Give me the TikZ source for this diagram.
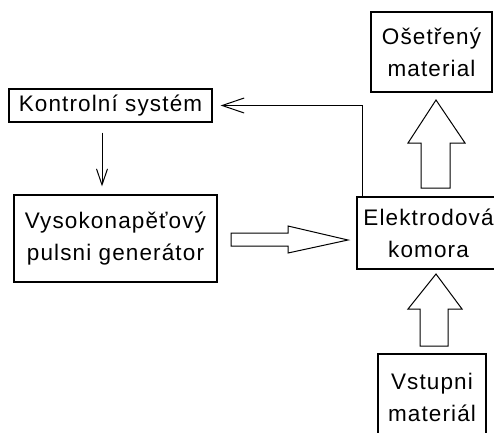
\documentclass[tikz,border=0pt]{standalone}
\usepackage{fontspec}
\setmainfont[LetterSpace=5]{Liberation Sans}
\usetikzlibrary{arrows.meta,calc}
\begin{document}
\begin{tikzpicture}[x=1pt,y=-1pt,
  box/.style={draw=black,line width=1.2pt,align=center,inner sep=0pt,
    font=\fontsize{22.5}{32}\selectfont},
  conn/.style={draw=black,line width=1pt},
  hollow/.style={draw=black,line width=1pt,fill=white,line join=miter}]
\useasboundingbox (0,0) rectangle (494,432);
\node[box,minimum width=121pt,minimum height=80pt] (oset) at (431.5,52) {Ošetřený\\material};
\node[box,minimum width=203pt,minimum height=33pt] (kontrol) at (110.5,105.5) {Kontrolní systém};
\node[box,minimum width=203pt,minimum height=87pt] (vysoko) at (115.5,238.5) {Vysokonapěťový\\pulsni generátor};
\node[box,minimum width=143pt,minimum height=72pt] (elektro) at (428.5,233) {Elektrodová\\komora};
\node[box,minimum width=108pt,minimum height=86pt] (vstup) at (432,397) {Vstupni\\materiál};
% feedback connector
\coordinate (fbx) at (362,0);
\draw[conn,-{Straight Barb[length=22pt,width=15pt,line width=1pt]},shorten >=8pt]
  (elektro.north -| fbx) |- (kontrol.east);
% control arrow
\coordinate (dx) at (102,0);
\draw[conn,-{Straight Barb[length=16pt,width=11pt,line width=1pt]},shorten <=10pt,shorten >=8pt]
  (kontrol.south -| dx) -- (vysoko.north -| dx);
% hollow arrow generator -> chamber
\draw[hollow] (231,233) -- (288,233) -- (288,226) -- (348,240) -- (288,253) -- (288,246) -- (231,246) -- cycle;
% hollow arrow chamber -> treated material
\draw[hollow] (421,188) -- (421,143) -- (408,143) -- (436,100) -- (465,143) -- (450,143) -- (450,188) -- cycle;
% hollow arrow input material -> chamber
\draw[hollow] (420,346) -- (420,309) -- (408,309) -- (436,274) -- (462,309) -- (448,309) -- (448,346) -- cycle;
\end{tikzpicture}
\end{document}
